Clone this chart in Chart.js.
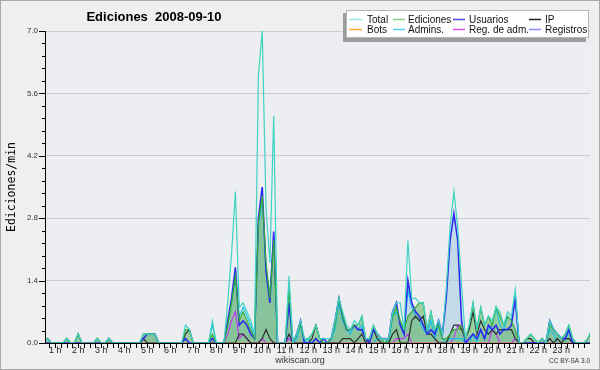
<!DOCTYPE html>
<html>
<head>
<meta charset="utf-8">
<script src="https://cdn.jsdelivr.net/npm/chart.js@4.4.1/dist/chart.umd.min.js"></script>
<style>
  html, body { margin: 0; padding: 0; background: #efefef; }
  #wrap { width: 600px; height: 370px; position: relative; }
</style>
</head>
<body>
<div id="wrap"><canvas id="chart" width="600" height="370"></canvas></div>
<script>
// one value every 10 minutes, edits per minute, rows = hours 0..24
const slotsPerHour = 6;

const total = [
  0, 0, 0, 0, .1, 0,        // 0 h
  0, 0, 0, .1, 0, 0,        // 1 h
  .2, 0, 0, 0, 0, .1,       // 2 h
  0, 0, .1, 0, 0, 0,        // 3 h
  0, 0, 0, 0, 0, .2,        // 4 h
  .2, .2, .2, 0, 0, 0,      // 5 h
  0, 0, 0, 0, .4, .3,       // 6 h
  0, 0, 0, 0, 0, .5,        // 7 h
  0, 0, 0, .9, 2.0, 3.4,    // 8 h
  .8, .9, .7, .5, .2, 6.0,  // 9 h
  7.0, 3.0, 1.8, 5.1, 0, 0, // 10 h
  0, 1.5, 0, .2, .5, .1,    // 11 h
  .1, .2, .4, .1, .1, .1,   // 12 h
  .1, .5, 1.0, .7, .4, .3,  // 13 h
  .5, .4, .6, .1, .1, .4,   // 14 h
  .2, .1, .1, .1, .7, .9,   // 15 h
  .9, .3, 2.3, 1.0, 1.0, .9,// 16 h
  .9, .3, .7, .3, .5, .2,   // 17 h
  1.2, 2.6, 3.4, 2.6, 1.3, .1, // 18 h
  .4, .9, .3, .8, .4, .6,   // 19 h
  .5, .8, .7, .4, .7, .6,   // 20 h
  1.2, 0, 0, .1, .2, .1,    // 21 h
  0, .1, 0, .5, .3, .2,     // 22 h
  .1, .2, .4, .1, 0, 0,     // 23 h
  0, .1, .3                 // 24 h
];

const ediciones = [
  0, 0, 0, 0, .1, 0,
  0, 0, 0, .1, 0, 0,
  .2, 0, 0, 0, 0, .1,
  0, 0, .1, 0, 0, 0,
  0, 0, 0, 0, 0, .2,
  .2, .2, .2, 0, 0, 0,
  0, 0, 0, 0, .3, .3,
  0, 0, 0, 0, 0, .2,
  0, 0, 0, .4, .9, 1.5,
  .5, .7, .5, .3, .1, 2.7,
  3.3, 1.8, 1.0, 2.3, 0, 0,
  0, 1.2, 0, .2, .4, .1,
  .1, .2, .4, .1, 0, 0,
  .1, .4, 1.0, .6, .3, .3,
  .4, .4, .6, .1, .1, .4,
  .2, .1, 0, .1, .6, .8,
  .5, .3, .6, .7, .8, .9,
  .9, .3, .7, .3, .4, .1,
  .1, .2, .3, .3, .4, .1,
  .4, .9, .3, .8, .4, .6,
  .4, .8, .6, .4, .6, .5,
  .3, 0, 0, .1, .2, .1,
  0, .1, 0, .4, .3, .2,
  .1, .2, .4, .1, 0, 0,
  0, .1, .3
];

const usuarios = [
  0, 0, 0, 0, 0, 0,
  0, 0, 0, 0, 0, 0,
  0, 0, 0, 0, 0, 0,
  0, 0, .1, 0, 0, 0,
  0, 0, 0, 0, 0, .1,
  .2, .2, .2, 0, 0, 0,
  0, 0, 0, 0, .1, 0,
  0, 0, 0, 0, 0, .1,
  0, 0, 0, .5, 1.0, 1.7,
  .4, .5, .4, .2, .1, 2.8,
  3.5, 1.6, .9, 2.5, 0, 0,
  0, .9, 0, .2, .5, 0,
  0, 0, .1, 0, .1, 0,
  .1, .5, 1.0, .6, .3, .3,
  .4, .3, .3, .1, 0, .3,
  .2, .1, .1, .1, .7, .9,
  .4, .2, 1.4, .9, .7, .6,
  .4, .2, .3, .2, .5, .2,
  1.0, 2.3, 2.9, 2.3, .5, 0,
  .1, .2, .1, .3, .1, .4,
  .3, .4, .2, .3, .3, .4,
  1.0, 0, 0, 0, 0, 0,
  0, 0, 0, .5, .3, .2,
  .1, .1, .3, 0, 0, 0,
  0, 0, 0
];

const ip = [
  0, 0, 0, 0, .1, 0,
  0, 0, 0, .1, 0, 0,
  .2, 0, 0, 0, 0, .1,
  0, 0, 0, 0, 0, 0,
  0, 0, 0, 0, 0, .1,
  0, 0, 0, 0, 0, 0,
  0, 0, 0, 0, .2, .3,
  0, 0, 0, 0, 0, 0,
  0, 0, 0, 0, 0, 0,
  .2, .2, .1, 0, 0, 0,
  .1, .3, .1, 0, 0, 0,
  0, .2, 0, 0, 0, 0,
  0, .1, .4, .1, 0, 0,
  0, 0, 0, .1, .1, .1,
  0, .1, .2, 0, .1, .3,
  .1, 0, 0, 0, .2, .3,
  0, 0, 0, .5, .6, .5,
  .6, .2, .2, .1, 0, 0,
  0, .2, .4, .4, .3, .1,
  .3, .7, .2, .5, .3, .2,
  .3, .2, .3, .3, .3, .3,
  .1, 0, 0, .1, .1, 0,
  0, .1, 0, .1, 0, .1,
  0, .1, .1, 0, 0, 0,
  0, .1, .3
];

const bots = new Array(147).fill(0);

const admins = [
  0, 0, 0, 0, 0, 0,
  0, 0, 0, 0, 0, 0,
  0, 0, 0, 0, 0, 0,
  0, 0, 0, 0, 0, 0,
  0, 0, 0, 0, 0, 0,
  0, 0, 0, 0, 0, 0,
  0, 0, 0, 0, 0, 0,
  0, 0, 0, 0, 0, .4,
  0, 0, 0, .4, .9, 1.5,
  .6, .8, .6, .4, .1, 2.6,
  3.2, 1.7, 1.1, 2.4, 0, 0,
  0, 1.3, 0, .1, .4, 0,
  .1, 0, 0, 0, .1, .1,
  .1, .3, .9, .5, .3, .2,
  .4, .3, .4, .1, 0, 0,
  .1, .1, .1, 0, .6, .7,
  .5, .2, 1.2, .8, .6, .5,
  .3, .2, .5, .1, .4, .1,
  0, .1, .1, .1, .1, 0,
  0, .2, 0, .3, .1, .3,
  .4, .8, .4, .3, .6, .5,
  1.1, 0, 0, 0, 0, 0,
  0, 0, 0, .3, .2, 0,
  0, 0, .3, 0, 0, 0,
  0, 0, 0
];

const regAdm = [
  0, 0, 0, 0, 0, 0,
  0, 0, 0, 0, 0, 0,
  0, 0, 0, 0, 0, 0,
  0, 0, 0, 0, 0, 0,
  0, 0, 0, 0, 0, 0,
  0, 0, 0, 0, 0, 0,
  0, 0, 0, 0, 0, 0,
  0, 0, 0, 0, 0, 0,
  0, 0, 0, .2, .5, .7,
  .1, .2, .1, 0, 0, 0,
  .1, 0, 0, 0, 0, 0,
  0, .1, 0, 0, 0, 0,
  0, 0, 0, 0, 0, 0,
  0, 0, 0, 0, 0, 0,
  0, 0, 0, 0, 0, 0,
  0, 0, 0, 0, 0, .1,
  .1, .1, .2, 0, 0, 0,
  0, 0, 0, 0, 0, 0,
  0, 0, .1, .4, .4, .1,
  0, 0, 0, 0, 0, 0,
  .3, .2, 0, 0, 0, 0,
  .1, 0, 0, 0, 0, 0,
  0, 0, 0, 0, 0, 0,
  0, 0, 0, 0, 0, 0,
  0, 0, 0
];

const registros = new Array(147).fill(0);

const hourLabels = ['1 h', '2 h', '3 h', '4 h', '5 h', '6 h', '7 h', '8 h', '9 h', '10 h', '11 h', '12 h',
  '13 h', '14 h', '15 h', '16 h', '17 h', '18 h', '19 h', '20 h', '21 h', '22 h', '23 h'];
const yMajor = [0, 1.4, 2.8, 4.2, 5.6, 7.0];

const seriesNames = ['Total', 'Ediciones', 'Usuarios', 'IP', 'Bots', 'Admins.', 'Reg. de adm.', 'Registros'];
const seriesColors = ['#3fd3c3', '#35ad35', '#2b2bf0', '#2e2e2e', '#ff9a1a', '#1cbfe6', '#c23cf0', '#7b7bff'];
// paler versions used only for the legend samples
const legendColors = ['#9ee8e2', '#86d086', '#4a4af4', '#222222', '#ffa830', '#52d2f0', '#e050f0', '#8a8aff'];

function toPoints(values) {
    return values.map((v, i) => ({ x: i / slotsPerHour, y: v }));
}

function line(idx, values, extra) {
    return Object.assign({
        label: seriesNames[idx],
        data: toPoints(values),
        borderColor: seriesColors[idx],
        backgroundColor: seriesColors[idx],
        borderWidth: 1.2,
        pointRadius: 0,
        tension: 0,
        fill: false
    }, extra || {});
}

const datasets = [
    line(0, total),
    line(1, ediciones, { fill: 'origin', backgroundColor: 'rgba(70,172,72,0.48)' }),
    line(2, usuarios, { borderWidth: 1.6, fill: 'origin', backgroundColor: 'rgba(168,206,226,0.6)' }),
    line(3, ip),
    line(4, bots),
    line(5, admins),
    line(6, regAdm),
    line(7, registros)
];

// plot frame, axis lines, ticks, title, legend
const decorations = {
    id: 'decorations',
    beforeDraw(chart) {
        const { ctx, chartArea: a } = chart;
        ctx.save();
        ctx.fillStyle = '#efefef';
        ctx.fillRect(0, 0, chart.width, chart.height);
        ctx.fillStyle = '#eceef1';
        ctx.fillRect(a.left, a.top, a.right - a.left, a.bottom - a.top);
        ctx.strokeStyle = '#a9a9a9';
        ctx.lineWidth = 1;
        ctx.strokeRect(0.5, 0.5, chart.width - 1, chart.height - 1);
        ctx.restore();
    },
    afterDatasetsDraw(chart) {
        const { ctx, chartArea: a, scales } = chart;
        ctx.save();
        ctx.strokeStyle = '#000';
        ctx.lineWidth = 1;
        ctx.beginPath();
        ctx.moveTo(a.left - 0.5, a.top);
        ctx.lineTo(a.left - 0.5, a.bottom + 1);
        ctx.moveTo(a.left - 1, a.bottom + 0.5);
        ctx.lineTo(a.right, a.bottom + 0.5);
        scales.y.ticks.forEach((t, i) => {
            const y = Math.round(scales.y.getPixelForValue(t.value)) + 0.5;
            const len = i % 5 === 0 ? 6 : 3;
            ctx.moveTo(a.left - 1 - len, y);
            ctx.lineTo(a.left - 1, y);
        });
        scales.x.ticks.forEach(t => {
            const x = Math.round(scales.x.getPixelForValue(t.value)) + 0.5;
            ctx.moveTo(x, a.bottom + 1);
            ctx.lineTo(x, a.bottom + 5);
        });
        ctx.stroke();
        ctx.restore();
    },
    afterDraw(chart) {
        const { ctx } = chart;
        ctx.save();
        ctx.fillStyle = '#000';
        ctx.textBaseline = 'middle';
        ctx.textAlign = 'center';
        ctx.font = 'bold 13px "Liberation Sans"';
        ctx.fillText('Ediciones  2008-09-10', 154, 17);

        ctx.save();
        ctx.translate(12, 187);
        ctx.rotate(-Math.PI / 2);
        ctx.font = '11.5px "DejaVu Sans Mono"';
        ctx.fillText('Ediciones/min', 0, 0);
        ctx.restore();

        ctx.fillStyle = '#333';
        ctx.font = '9px "Liberation Sans"';
        ctx.fillText('wikiscan.org', 300, 361);
        ctx.textAlign = 'right';
        ctx.font = '6.5px "Liberation Sans"';
        ctx.fillText('CC BY-SA 3.0', 590, 361);

        // legend box with shadow
        ctx.fillStyle = '#9c9c9c';
        ctx.fillRect(343, 13, 243, 29);
        ctx.fillStyle = '#ffffff';
        ctx.fillRect(346, 10, 243, 28);
        ctx.strokeStyle = '#b4b4b4';
        ctx.lineWidth = 1;
        ctx.strokeRect(346.5, 10.5, 242, 27);

        const lineX = [[349, 362], [393, 405], [453, 465], [529, 541]];
        const textX = [367, 408, 469, 545];
        const rowY = [19.5, 29.5];
        ctx.textAlign = 'left';
        ctx.font = '10px "Liberation Sans"';
        seriesNames.forEach((name, i) => {
            const col = i % 4, row = Math.floor(i / 4);
            ctx.strokeStyle = legendColors[i];
            ctx.lineWidth = 1.5;
            ctx.beginPath();
            ctx.moveTo(lineX[col][0], rowY[row]);
            ctx.lineTo(lineX[col][1], rowY[row]);
            ctx.stroke();
            ctx.fillStyle = '#111';
            ctx.fillText(name, textX[col], rowY[row] + 0.5);
        });
        ctx.restore();
    }
};

new Chart(document.getElementById('chart').getContext('2d'), {
    type: 'line',
    data: { datasets: datasets },
    options: {
        responsive: false,
        animation: false,
        devicePixelRatio: 1,
        layout: { padding: { left: 0, right: 10, top: 31, bottom: 0 } },
        plugins: {
            legend: { display: false },
            title: { display: false },
            tooltip: { enabled: false },
            filler: { drawTime: 'beforeDatasetsDraw' }
        },
        scales: {
            x: {
                type: 'linear',
                min: 0.6,
                max: 24.25,
                border: { display: false },
                grid: { display: false, drawTicks: false },
                afterBuildTicks: scale => {
                    const ticks = [];
                    for (let q = 3; q <= 96; q++) ticks.push({ value: q / 4 });
                    scale.ticks = ticks;
                },
                afterFit: scale => { scale.height = 27; },
                ticks: {
                    autoSkip: false,
                    maxRotation: 0,
                    padding: 2,
                    color: '#222',
                    font: { family: 'Liberation Sans', size: 9 },
                    callback: value => (Number.isInteger(value) && value >= 1 && value <= 23) ? hourLabels[value - 1] : ''
                }
            },
            y: {
                min: 0,
                max: 7,
                border: { display: false },
                grid: {
                    drawTicks: false,
                    color: c => (c.index % 5 === 0 && c.index > 0) ? '#cbcbcb' : 'rgba(0,0,0,0)'
                },
                afterBuildTicks: scale => {
                    const ticks = [];
                    for (let k = 0; k <= 25; k++) ticks.push({ value: Math.round(k * 28) / 100 });
                    scale.ticks = ticks;
                },
                afterFit: scale => { scale.width = 46; },
                ticks: {
                    autoSkip: false,
                    padding: 8,
                    color: '#333',
                    font: { family: 'Liberation Sans', size: 8 },
                    callback: (value, index) => index % 5 === 0 ? yMajor[index / 5].toFixed(1) : ''
                }
            }
        }
    },
    plugins: [decorations]
});
</script>
</body>
</html>
